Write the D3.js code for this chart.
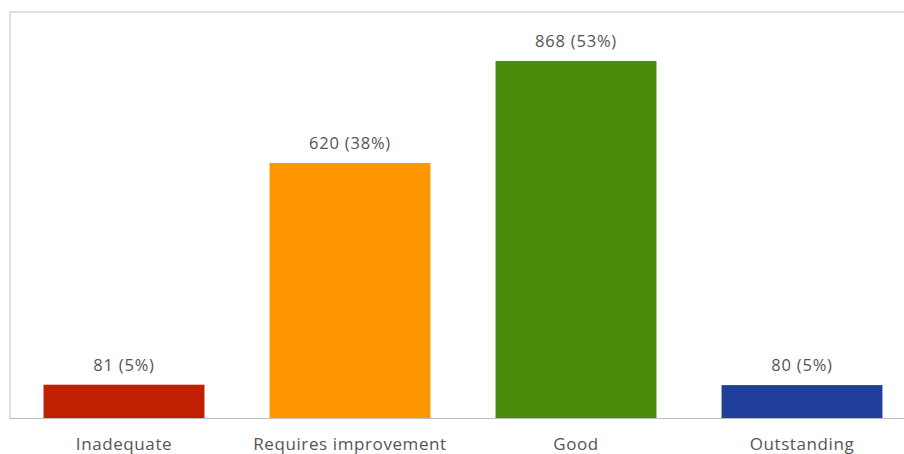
<!DOCTYPE html>
<html>
<head>
<meta charset="utf-8">
<script src="https://cdn.jsdelivr.net/npm/d3@7"></script>
<style>
  html, body { margin: 0; padding: 0; background: #fff; }
  svg { display: block; }
</style>
</head>
<body>
<svg id="chart" width="904" height="454"></svg>
<script>
// Inspection outcomes: count and share of each rating
const categories = ["Inadequate", "Requires improvement", "Good", "Outstanding"];
const counts = [81, 620, 868, 80];
const shares = ["5%", "38%", "53%", "5%"];
const colors = ["#c01f02", "#ff9800", "#4a8b09", "#1f3f9a"];

const svg = d3.select("#chart");
const W = 904, H = 454;
const plot = { left: 11, right: 915, top: 12, bottom: 418 };
const font = "'Open Sans', Lato, sans-serif";

const x = d3.scaleBand()
  .domain(categories)
  .range([plot.left, plot.right])
  .paddingInner(0.288)
  .paddingOuter(0.144);

const y = d3.scaleLinear()
  .domain([0, 987])
  .range([plot.bottom, plot.top]);

// plot-area frame: top and left edges
svg.append("line")
  .attr("x1", 9).attr("x2", W).attr("y1", plot.top).attr("y2", plot.top)
  .attr("stroke", "#d4d4d4").attr("stroke-width", 1.5);
svg.append("line")
  .attr("x1", 10).attr("x2", 10).attr("y1", plot.top).attr("y2", plot.bottom)
  .attr("stroke", "#d4d4d4").attr("stroke-width", 1.5);

// bars
svg.append("g").selectAll("rect")
  .data(categories)
  .join("rect")
  .attr("x", d => x(d))
  .attr("width", x.bandwidth())
  .attr("y", (d, i) => y(counts[i]))
  .attr("height", (d, i) => y(0) - y(counts[i]))
  .attr("fill", (d, i) => colors[i]);

// x axis
const xAxis = svg.append("g")
  .attr("transform", `translate(0,${plot.bottom})`)
  .call(d3.axisBottom(x).tickSize(0).tickPadding(20));
xAxis.select(".domain")
  .attr("d", `M9.5,0.5H${W}`)
  .attr("stroke", "#bdbdbd").attr("stroke-width", 1.2);
xAxis.selectAll("text")
  .attr("font-family", font)
  .attr("font-size", 17)
  .attr("letter-spacing", 0.6)
  .attr("fill", "#555");

// value labels
svg.append("g").selectAll("text")
  .data(categories)
  .join("text")
  .attr("x", d => x(d) + x.bandwidth() / 2)
  .attr("y", (d, i) => y(counts[i]) - 14)
  .attr("text-anchor", "middle")
  .attr("font-family", font)
  .attr("font-size", 16.5)
  .attr("letter-spacing", 0.8)
  .attr("fill", "#555")
  .text((d, i) => `${counts[i]} (${shares[i]})`);
</script>
</body>
</html>
